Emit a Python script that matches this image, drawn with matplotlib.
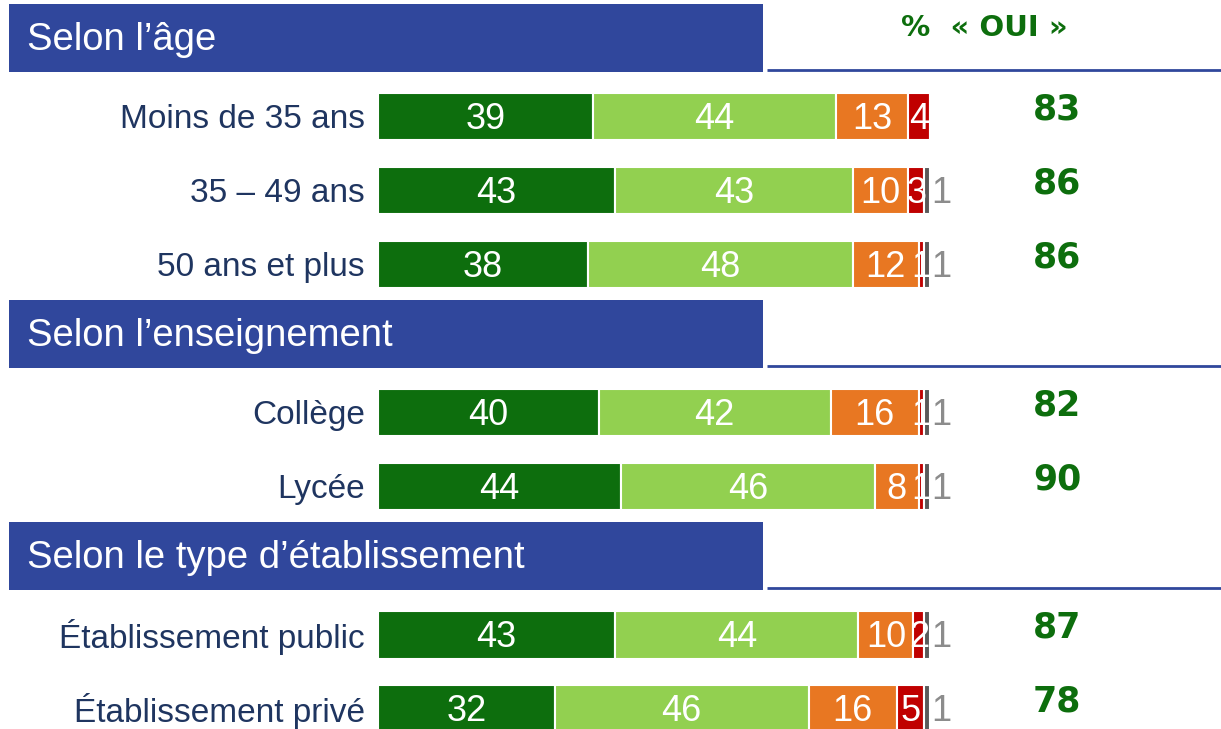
import matplotlib.pyplot as plt
from matplotlib.patches import Rectangle

categories = ["Moins de 35 ans", "35 – 49 ans", "50 ans et plus",
              "Collège", "Lycée",
              "Établissement public", "Établissement privé"]
sections = ["Selon l’âge", "Selon l’enseignement", "Selon le type d’établissement"]
section_sizes = [3, 2, 2]

tres = [39, 43, 38, 40, 44, 43, 32]
plutot = [44, 43, 48, 42, 46, 44, 46]
plutot_non = [13, 10, 12, 16, 8, 10, 16]
pas_du_tout = [4, 3, 1, 1, 1, 2, 5]
nsp = [0, 1, 1, 1, 1, 1, 1]
oui = [83, 86, 86, 82, 90, 87, 78]

series = [tres, plutot, plutot_non, pas_du_tout, nsp]
couleurs = ["#0d6e0d", "#92d050", "#e87722", "#c00000", "#5a5a5a"]
bleu = "#30479c"
vert = "#0d6e0d"

plt.rcParams["font.family"] = ["Liberation Sans", "DejaVu Sans"]

W, H = 1221, 729
fig = plt.figure(figsize=(W / 100, H / 100), dpi=100)
ax = fig.add_axes([0, 0, 1, 1])
ax.axis("off")

# 100 % de barre = 552 px, debut a x=378 px
sc = 5.52
def px(x):
    return (x - 378) / sc

ax.set_xlim(px(0), px(W))
# lignes en "slots" de 74 px
ax.set_ylim((H - 43) / 74, -43 / 74)

# position des lignes (slot) : un titre puis ses lignes
slots = []
titres = []
s = 0
for n in section_sizes:
    titres.append(s)
    slots.extend(range(s + 1, s + 1 + n))
    s += n + 1

for t, nom in zip(titres, sections):
    yc = t - 5 / 74
    h = 68 / 74
    ax.add_patch(Rectangle((px(9), yc - h / 2), px(763) - px(9), h,
                           facecolor=bleu, edgecolor="none"))
    ax.text(px(27), yc + 0.03, nom, color="white", fontsize=27.5,
            va="center", ha="left")
    ax.plot([px(767), px(W)], [yc + h / 2 - 0.03] * 2, color=bleu, lw=2,
            solid_capstyle="butt")

ax.text(px(984), titres[0] - 0.2, "%  « OUI »", color=vert, fontsize=21,
        family="DejaVu Sans", fontweight="bold",
        ha="center", va="center")

left = [0] * len(categories)
for k, (vals, c) in enumerate(zip(series, couleurs)):
    ax.barh(slots, vals, left=left, height=47 / 74, color=c,
            edgecolor="white", linewidth=1.5)
    for i, v in enumerate(vals):
        if v == 0:
            continue
        if k < 4:
            ax.text(left[i] + v / 2, slots[i] + 0.04, str(v), color="white",
                    fontsize=26, ha="center", va="center")
        else:
            ax.text(left[i] + v + 0.2, slots[i] + 0.04, str(v), color="#8c8c8c",
                    fontsize=26, ha="left", va="center")
    left = [a + b for a, b in zip(left, vals)]

for y, cat, o in zip(slots, categories, oui):
    ax.text(px(365), y + 0.03, cat, color="#1f3560", fontsize=24,
            ha="right", va="center")
    ax.text(px(1057), y - 0.1, str(o), color=vert, fontsize=25,
            family="DejaVu Sans", fontweight="bold",
            ha="center", va="center")

fig.savefig("out.png", dpi=100)
